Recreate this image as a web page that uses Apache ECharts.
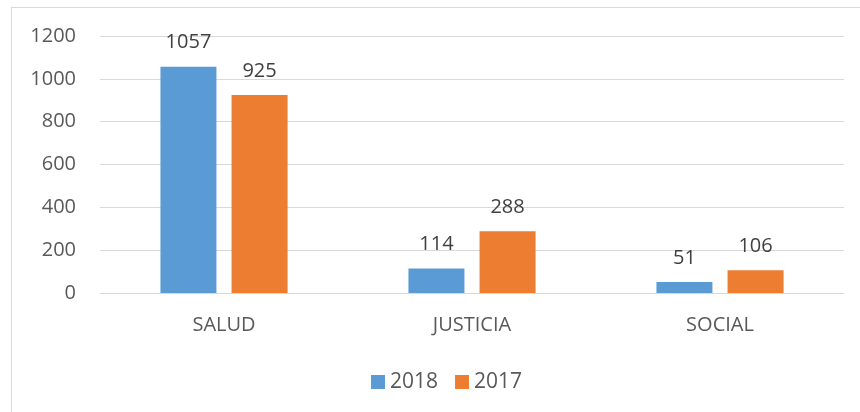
<!DOCTYPE html>
<html>
<head>
    <meta charset="UTF-8">
    <title>SALUD JUSTICIA SOCIAL</title>
    <script src="https://cdn.jsdelivr.net/npm/echarts@6/dist/echarts.min.js"></script>
</head>
<style>
    body { margin: 0; background: #fff; }
    #chart { width: 860px; height: 412px; }
</style>
<body>
<div id="chart"></div>
<script>
// datos
const categories = ['SALUD', 'JUSTICIA', 'SOCIAL'];
const values2018 = [1057, 114, 51];
const values2017 = [925, 288, 106];
const seriesNames = ['2018', '2017'];

const chart = echarts.init(document.getElementById('chart'));
const font = '"Open Sans", "Liberation Sans", sans-serif';

const label = {
    show: true,
    position: 'top',
    distance: 14,
    color: '#404040',
    fontSize: 20,
    fontFamily: font
};

chart.setOption({
    animation: false,
    graphic: [
        { type: 'line', shape: { x1: 11, y1: 7.5, x2: 860, y2: 7.5 }, style: { stroke: '#d9d9d9', lineWidth: 1 } },
        { type: 'line', shape: { x1: 11.5, y1: 7, x2: 11.5, y2: 412 }, style: { stroke: '#d9d9d9', lineWidth: 1 } }
    ],
    grid: { left: 100, right: 16, top: 36, bottom: 119 },
    legend: {
        top: 366,
        left: 366,
        itemWidth: 14,
        itemHeight: 14,
        itemGap: 17,
        icon: 'rect',
        textStyle: { color: '#595959', fontSize: 21, lineHeight: 22, fontFamily: font },
        data: seriesNames
    },
    xAxis: {
        type: 'category',
        data: categories,
        axisLine: { lineStyle: { color: '#d9d9d9', width: 1 } },
        axisTick: { show: false },
        axisLabel: { color: '#595959', fontSize: 20, fontFamily: font, margin: 22 }
    },
    yAxis: {
        type: 'value',
        min: 0,
        max: 1200,
        interval: 200,
        axisLine: { show: false },
        axisTick: { show: false },
        splitLine: { lineStyle: { color: '#d9d9d9', width: 1 } },
        axisLabel: { color: '#595959', fontSize: 20, fontFamily: font, margin: 24, formatter: v => String(v) }
    },
    series: [
        {
            name: seriesNames[0],
            type: 'bar',
            data: values2018,
            barWidth: 56,
            barGap: '27%',
            itemStyle: { color: '#5b9bd5' },
            label: label
        },
        {
            name: seriesNames[1],
            type: 'bar',
            data: values2017,
            barWidth: 56,
            itemStyle: { color: '#ed7d31' },
            label: label
        }
    ]
});
</script>
</body>
</html>
